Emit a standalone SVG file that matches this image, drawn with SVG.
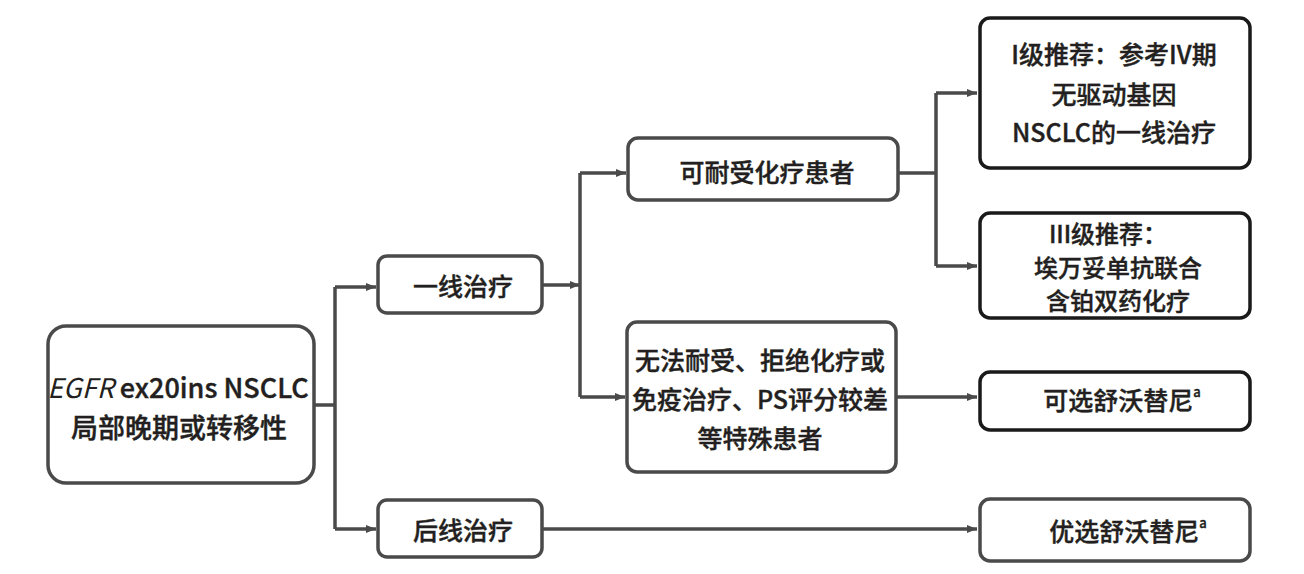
<svg xmlns="http://www.w3.org/2000/svg" width="1304" height="574" viewBox="0 0 1304 574">
<defs>
<marker id="ah" markerWidth="10" markerHeight="8" refX="10" refY="4" orient="auto" markerUnits="userSpaceOnUse">
<path d="M0,0 L10,4 L0,8 Z" fill="#4a4a4a"/>
</marker>
<style>
.box{fill:#fff;stroke:#4a4a4a;stroke-width:3.5}
.bk{fill:#fff;stroke:#1a1a1a;stroke-width:3.5}
.t{font-family:"Noto Sans CJK SC","Noto Sans",sans-serif;font-size:25px;font-weight:500;fill:#231f20;stroke:#231f20;stroke-width:0.4;text-anchor:middle;dominant-baseline:central}
.big{font-size:27px}
.sm{font-size:24px}
.c{fill:none;stroke:#4a4a4a;stroke-width:3.5}
.sup{font-size:13px}
</style>
</defs>
<rect width="1304" height="574" fill="#fff"/>
<g id="connectors">
<polyline class="c" points="314,405 335,405"/>
<polyline class="c" points="335,287 335,529"/>
<polyline class="c" points="335,287 376,287" marker-end="url(#ah)"/>
<polyline class="c" points="335,529 376,529" marker-end="url(#ah)"/>
<polyline class="c" points="542,285 580,285" marker-end="url(#ah)"/>
<polyline class="c" points="580,173 580,397"/>
<polyline class="c" points="580,173 626,173" marker-end="url(#ah)"/>
<polyline class="c" points="580,397 625,397" marker-end="url(#ah)"/>
<polyline class="c" points="898,173 936,173"/>
<polyline class="c" points="936,93 936,266"/>
<polyline class="c" points="936,93 977,93" marker-end="url(#ah)"/>
<polyline class="c" points="936,266 977,266" marker-end="url(#ah)"/>
<polyline class="c" points="896,397 977,397" marker-end="url(#ah)"/>
<polyline class="c" points="542,529 977,529" marker-end="url(#ah)"/>
</g>
<g id="n-main">
<rect class="box" x="48" y="326" width="266" height="157" rx="18"/>
<text class="t big" x="178" y="386"><tspan font-style="italic" font-weight="400" stroke-width="0">EGFR</tspan> ex20ins NSCLC</text>
<text class="t big" x="179" y="426">局部晚期或转移性</text>
</g>
<g id="n-first">
<rect class="box" x="378" y="256" width="164" height="57" rx="9"/>
<text class="t" x="463" y="285">一线治疗</text>
</g>
<g id="n-later">
<rect class="box" x="378" y="500" width="164" height="57" rx="9"/>
<text class="t" x="463" y="529">后线治疗</text>
</g>
<g id="n-tolerant">
<rect class="box" x="628" y="138" width="270" height="62" rx="10"/>
<text class="t" x="767" y="171">可耐受化疗患者</text>
</g>
<g id="n-intolerant">
<rect class="box" x="627" y="322" width="269" height="150" rx="10"/>
<text class="t" x="760" y="359">无法耐受、拒绝化疗或</text>
<text class="t" x="760" y="398">免疫治疗、PS评分较差</text>
<text class="t" x="760" y="437">等特殊患者</text>
</g>
<g id="n-level1">
<rect class="bk" x="980" y="18" width="270" height="150" rx="10"/>
<text class="t" x="1114" y="53">I级推荐：参考IV期</text>
<text class="t" x="1114" y="93">无驱动基因</text>
<text class="t" x="1114" y="131">NSCLC的一线治疗</text>
</g>
<g id="n-level3">
<rect class="bk" x="980" y="213" width="270" height="105" rx="10"/>
<text class="t sm" x="1108" y="232">III级推荐：</text>
<text class="t sm" x="1118" y="266">埃万妥单抗联合</text>
<text class="t sm" x="1118" y="299">含铂双药化疗</text>
</g>
<g id="n-optional">
<rect class="bk" x="980" y="372" width="270" height="58" rx="10"/>
<text class="t" x="1122" y="399">可选舒沃替尼<tspan class="sup" dy="-8">a</tspan></text>
</g>
<g id="n-preferred">
<rect class="box" x="980" y="499" width="270" height="62" rx="10"/>
<text class="t" x="1128" y="530">优选舒沃替尼<tspan class="sup" dy="-8">a</tspan></text>
</g>
</svg>
